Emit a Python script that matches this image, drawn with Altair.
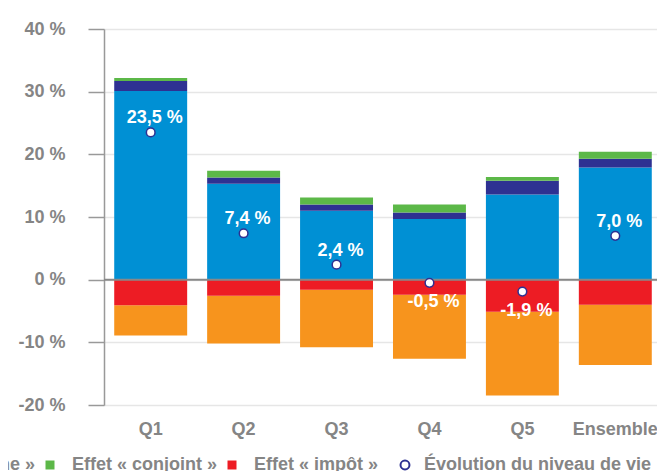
import altair as alt
import pandas as pd

groups = ["Q1", "Q2", "Q3", "Q4", "Q5", "Ensemble"]

effect_names = [
    "Effet « revenus d'activité »",
    "Effet « taille du ménage »",
    "Effet « patrimoine »",
    "Effet « conjoint »",
    "Effet « impôt »",
]
effect_colors = ["#0090d4", "#f7941d", "#2e3192", "#5cb848", "#ed1c24"]
# stacking order: blue, dark blue, green above zero; red, orange below
stack_order = [0, 4, 1, 2, 3]

eff_activite = [30.1, 15.3, 11.0, 9.7, 13.6, 17.9]
eff_taille = [-4.8, -7.65, -9.2, -10.2, -13.4, -9.6]
eff_patrimoine = [1.6, 1.0, 1.0, 1.0, 2.2, 1.4]
eff_conjoint = [0.5, 1.1, 1.1, 1.3, 0.6, 1.1]
eff_impot = [-4.1, -2.55, -1.6, -2.4, -5.1, -4.0]

evolution = [23.5, 7.4, 2.4, -0.5, -1.9, 7.0]
evolution_name = "Évolution du niveau de vie"

series = [eff_activite, eff_taille, eff_patrimoine, eff_conjoint, eff_impot]

rows = []
for name, vals, order in zip(effect_names, series, stack_order):
    for g, v in zip(groups, vals):
        rows.append({"groupe": g, "effet": name, "valeur": v, "ordre": order})
bars_df = pd.DataFrame(rows)

evo_df = pd.DataFrame({
    "groupe": groups,
    "valeur": evolution,
    "serie": [evolution_name] * len(groups),
    "label": [f"{v:.1f}".replace(".", ",") + " %" for v in evolution],
})

FONT = "Liberation Sans"
GREY = "#858585"

# the plot runs past the right edge of the picture, as in the reference
x_scale = alt.Scale(range=[0, 558], paddingInner=0.215, paddingOuter=0.11, round=False)

x_enc = alt.X(
    "groupe:N",
    sort=groups,
    title=None,
    scale=x_scale,
    axis=alt.Axis(
        labelAngle=0, domain=False, ticks=False, labelPadding=15,
        labelFont=FONT, labelFontSize=18, labelFontWeight="bold", labelColor=GREY,
    ),
)

y_scale = alt.Scale(domain=[-20, 40], nice=False)

bars = alt.Chart(bars_df).mark_bar().encode(
    x=x_enc,
    y=alt.Y(
        "valeur:Q",
        stack="zero",
        scale=y_scale,
        title=None,
        axis=alt.Axis(
            values=[-20, -10, 0, 10, 20, 30, 40],
            labelExpr="datum.value + ' %'",
            labelFont=FONT, labelFontSize=18, labelFontWeight="bold", labelColor=GREY,
            labelPadding=23, tickSize=16, tickColor="#999999", tickWidth=1.5,
            domainColor="#999999", domainWidth=1.5,
            grid=True, gridColor="#e6e6e6", gridWidth=1.5,
        ),
    ),
    color=alt.Color(
        "effet:N",
        scale=alt.Scale(domain=effect_names, range=effect_colors),
        legend=alt.Legend(
            title=None, orient="none", direction="horizontal", columns=5,
            legendX=-783, legendY=427,
            symbolType="square", symbolSize=81, symbolStrokeWidth=0,
            labelOffset=13, columnPadding=5,
            labelFont=FONT, labelFontSize=18, labelFontWeight="bold", labelColor=GREY,
            labelLimit=400,
        ),
    ),
    order=alt.Order("ordre:Q"),
)

zero = alt.Chart(pd.DataFrame({"y": [0]})).mark_rule(color="#888888", strokeWidth=2).encode(
    y=alt.Y("y:Q", scale=y_scale)
)

dots = alt.Chart(evo_df).mark_point(
    filled=True, fill="white", strokeWidth=1.5, size=75, opacity=1
).encode(
    x=alt.X("groupe:N", sort=groups, scale=x_scale),
    y=alt.Y("valeur:Q", scale=y_scale),
    stroke=alt.Stroke(
        "serie:N",
        scale=alt.Scale(domain=[evolution_name], range=["#2e3192"]),
        legend=alt.Legend(
            title=None, orient="none", direction="horizontal",
            legendX=292, legendY=427,
            symbolType="circle", symbolSize=80, symbolFillColor="white",
            symbolStrokeWidth=2,
            labelOffset=10,
            labelFont=FONT, labelFontSize=18, labelFontWeight="bold", labelColor=GREY,
            labelLimit=400,
        ),
    ),
)

text_style = dict(color="white", font=FONT, fontSize=18, fontWeight="bold", dx=4)

labels_up = alt.Chart(evo_df).transform_filter("datum.valeur >= 0").mark_text(
    dy=-14, **text_style
).encode(
    x=alt.X("groupe:N", sort=groups, scale=x_scale),
    y=alt.Y("valeur:Q", scale=y_scale),
    text="label:N",
)

labels_down = alt.Chart(evo_df).transform_filter("datum.valeur < 0").mark_text(
    dy=19, **text_style
).encode(
    x=alt.X("groupe:N", sort=groups, scale=x_scale),
    y=alt.Y("valeur:Q", scale=y_scale),
    text="label:N",
)

chart = alt.layer(bars, zero, dots, labels_up, labels_down).properties(
    width=553,
    height=376,
    autosize=alt.AutoSizeParams(type="none"),
    padding={"left": 96, "top": 21, "right": 0, "bottom": 70},
).configure_view(stroke=None).configure(background="white")

chart.save("out.html", embed_options={"renderer": "svg", "actions": False})
